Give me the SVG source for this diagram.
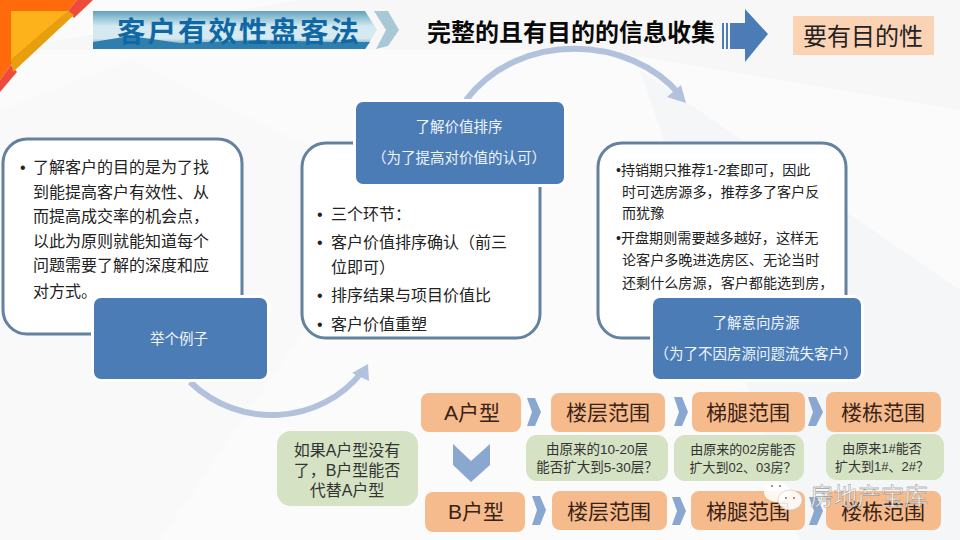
<svg xmlns="http://www.w3.org/2000/svg" width="960" height="540" viewBox="0 0 960 540">
<defs>
<style>
text{font-family:"Liberation Sans","Noto Sans CJK SC",sans-serif}
.card{fill:#fff;stroke:#64829f;stroke-width:3}
.blue{fill:#4b7cb6;stroke:#fff;stroke-width:6;paint-order:stroke}
.wt{fill:#eef4fa;font-size:14.5px;text-anchor:middle}
.bd{fill:#222;font-size:16px}
.bs{fill:#222;font-size:14.1px}
.or{fill:#f6bb8c}
.gr{fill:#d5e2c4}
.ot{fill:#3a2216;font-size:21px;text-anchor:middle}
.gt{fill:#333;font-size:13px;text-anchor:middle}
.gf{fill:#333;font-size:13.5px;text-anchor:middle}
.gl{fill:#333;font-size:16px;text-anchor:middle}
.ch{fill:#8aa8cf}
.arc{fill:none;stroke:#b3c2dc;stroke-width:6}
.wm{fill:#fff;fill-opacity:.88}
.eye{fill:#777}
</style>
<linearGradient id="ban" x1="0" y1="0" x2="0" y2="1">
<stop offset="0" stop-color="#5fa3bb"/><stop offset=".4" stop-color="#d3e9f1"/><stop offset=".72" stop-color="#d6e9f0"/><stop offset="1" stop-color="#2f86b3"/>
</linearGradient>
</defs>
<rect width="960" height="540" fill="#fbfbfc"/>
<polygon points="0,50 300,0 960,0 960,110 600,50" fill="#f7f7f8"/>
<polygon points="0,110 130,60 400,190 160,540 0,540" fill="#f9f9fa"/>
<polygon points="640,70 960,290 960,540 800,540" fill="#f5f6f7"/>
<g id="corner">
<polygon points="0,0 77,0 68,11 11,65 0,80" fill="#ff6a0c"/>
<polygon points="77,0 93,0 74,18 68,11" fill="#ef4b3c"/>
<polygon points="0,80 11,65 17,72 0,92" fill="#ef4b3c"/>
<polygon points="11,11 68,11 11,60" fill="#fdb11a"/>
<polygon points="68,11 74,15 13,72 11,60" fill="#e89f0e"/>
</g>
<g id="title-banner">
<polygon points="93,11 365,11 377,30 365,49 93,49" fill="url(#ban)"/>
<polygon points="93,42 130,36 180,43 260,40 330,42 370,42 365,49 93,49" fill="#2f7fae"/>
<polygon points="374,11 388,11 399,30 388,46 376,49 386,30" fill="#a9c8d6"/>
<text x="239" y="42" font-size="28.5" font-weight="700" fill="#0f68a4" text-anchor="middle" letter-spacing="2">客户有效性盘客法</text>
</g>
<text id="subtitle" x="571" y="41" font-size="24" font-weight="700" fill="#0a0a0a" text-anchor="middle">完整的且有目的的信息收集</text>
<g id="big-arrow" fill="#4b7cb6">
<rect x="722" y="23" width="2" height="26"/><rect x="726" y="23" width="2" height="26"/>
<polygon points="730,23 745,23 745,9 768,34 745,62 745,49 730,49"/>
</g>
<g id="purpose"><rect x="793" y="16" width="141" height="39" fill="#fad3b5"/>
<text x="863" y="45" font-size="24" fill="#222" text-anchor="middle">要有目的性</text></g>
<g id="connectors">
<path class="arc" d="M190,382 C240,430 320,425 362,372"/>
<polygon points="368,364 369,381 352,373" fill="#b3c2dc"/>
<path class="arc" d="M466,100 C520,30 630,35 680,95"/>
<polygon points="686,103 667,97 681,85" fill="#b3c2dc"/>
</g>
<g id="card-1"><rect class="card" x="3" y="139" width="239" height="195" rx="24"/>
<text class="bd" x="20" y="173">•</text>
<text x="33" y="173" class="bd">了解客户的目的是为了找</text><text x="33" y="198" class="bd">到能提高客户有效性、从</text><text x="33" y="222" class="bd">而提高成交率的机会点，</text><text x="33" y="247" class="bd">以此为原则就能知道每个</text><text x="33" y="271" class="bd">问题需要了解的深度和应</text><text x="33" y="297" class="bd">对方式。</text></g>
<g id="btn-example"><rect class="blue" x="94" y="298" width="173" height="81" rx="7"/><text class="wt" x="179" y="344">举个例子</text></g>
<g id="card-2"><rect class="card" x="302" y="143" width="238" height="195" rx="24"/>
<text class="bd" x="317" y="220">•</text><text class="bd" x="331" y="220">三个环节：</text>
<text class="bd" x="317" y="248">•</text><text class="bd" x="331" y="248">客户价值排序确认（前三</text>
<text class="bd" x="331" y="273">位即可）</text>
<text class="bd" x="317" y="301">•</text><text class="bd" x="331" y="301">排序结果与项目价值比</text>
<text class="bd" x="317" y="330">•</text><text class="bd" x="331" y="330">客户价值重塑</text></g>
<g id="btn-rank"><rect class="blue" x="356" y="102" width="208" height="82" rx="7"/><text class="wt" x="459" y="132">了解价值排序</text><text class="wt" x="459" y="163">（为了提高对价值的认可）</text></g>
<g id="card-3"><rect class="card" x="598" y="143" width="248" height="195" rx="24"/>
<text class="bs" x="616" y="175">•持销期只推荐1-2套即可，因此</text><text class="bs" x="622" y="197">时可选房源多，推荐多了客户反</text><text class="bs" x="622" y="218">而犹豫</text>
<text class="bs" x="616" y="243">•开盘期则需要越多越好，这样无</text><text class="bs" x="622" y="265">论客户多晚进选房区、无论当时</text><text class="bs" x="622" y="288">还剩什么房源，客户都能选到房，</text></g>
<g id="btn-house"><rect class="blue" x="653" y="298" width="208" height="81" rx="7"/><text class="wt" x="756" y="328">了解意向房源</text><text class="wt" x="756" y="359">（为了不因房源问题流失客户）</text></g>
<g id="a-type"><rect class="or" x="421" y="393" width="100" height="39" rx="8"/><text class="ot" x="472" y="420">A户型</text></g>
<g id="a-floor"><rect class="or" x="551" y="393" width="114" height="39" rx="8"/><text class="ot" x="608" y="420">楼层范围</text></g>
<g id="a-ladder"><rect class="or" x="692" y="392" width="113" height="40" rx="8"/><text class="ot" x="748" y="420">梯腿范围</text></g>
<g id="a-build"><rect class="or" x="826" y="392" width="115" height="40" rx="8"/><text class="ot" x="883" y="420">楼栋范围</text></g>
<g id="b-type"><rect class="or" x="425" y="492" width="100" height="40" rx="8"/><text class="ot" x="476" y="519">B户型</text></g>
<g id="b-floor"><rect class="or" x="552" y="491" width="115" height="39" rx="8"/><text class="ot" x="609" y="519">楼层范围</text></g>
<g id="b-ladder"><rect class="or" x="691" y="491" width="114" height="39" rx="8"/><text class="ot" x="748" y="519">梯腿范围</text></g>
<g id="b-build"><rect class="or" x="826" y="491" width="115" height="39" rx="8"/><text class="ot" x="883" y="519">楼栋范围</text></g>
<g id="chevrons">
<polygon class="ch" points="527,398 535,398 541,412 535,426 527,426 532,412"/>
<polygon class="ch" points="674,397 682,397 688,412 682,426 674,426 679,412"/>
<polygon class="ch" points="808,397 816,397 823,412 816,426 808,426 813,412"/>
<polygon class="ch" points="532,496 540,496 546,510 540,525 532,525 537,510"/>
<polygon class="ch" points="672,497 680,497 686,511 680,525 672,525 677,511"/>
<polygon class="ch" points="809,497 817,497 823,511 817,525 809,525 814,511"/>
<polygon class="ch" points="453,444 471,461 490,444 490,465 471,482 453,465"/>
</g>
<g id="note-swap"><rect class="gr" x="277" y="431" width="141" height="75" rx="14"/><text x="347" y="456" class="gl">如果A户型没有</text><text x="347" y="476" class="gl">了，B户型能否</text><text x="347" y="496" class="gl">代替A户型</text></g>
<g id="note-floor"><rect class="gr" x="526" y="435" width="142" height="46" rx="11"/><text class="gf" x="597" y="454">由原来的10-20层</text><text class="gf" x="597" y="472">能否扩大到5-30层？</text></g>
<g id="note-ladder"><rect class="gr" x="674" y="435" width="130" height="46" rx="11"/><text class="gt" x="743" y="454">由原来的02房能否</text><text class="gt" x="743" y="472">扩大到02、03房？</text></g>
<g id="note-build"><rect class="gr" x="826" y="434" width="118" height="46" rx="11"/><text class="gt" x="882" y="453">由原来1#能否</text><text class="gt" x="882" y="471">扩大到1#、2#？</text></g>
<g id="watermark">
<ellipse class="wm" cx="777" cy="492" rx="13" ry="10"/><circle class="eye" cx="772" cy="486" r="1"/><circle class="eye" cx="780" cy="486" r="1"/>
<ellipse class="wm" cx="790" cy="500" rx="12" ry="10" stroke="#c8c8c8" stroke-width=".6"/><circle class="eye" cx="786" cy="498" r="1"/><circle class="eye" cx="794" cy="498" r="1"/>
<text x="869" y="505" font-size="23.5" fill="#f6f6f6" fill-opacity=".9" stroke="#777" stroke-width=".35" text-anchor="middle">房地产宝库</text>
</g>
</svg>
